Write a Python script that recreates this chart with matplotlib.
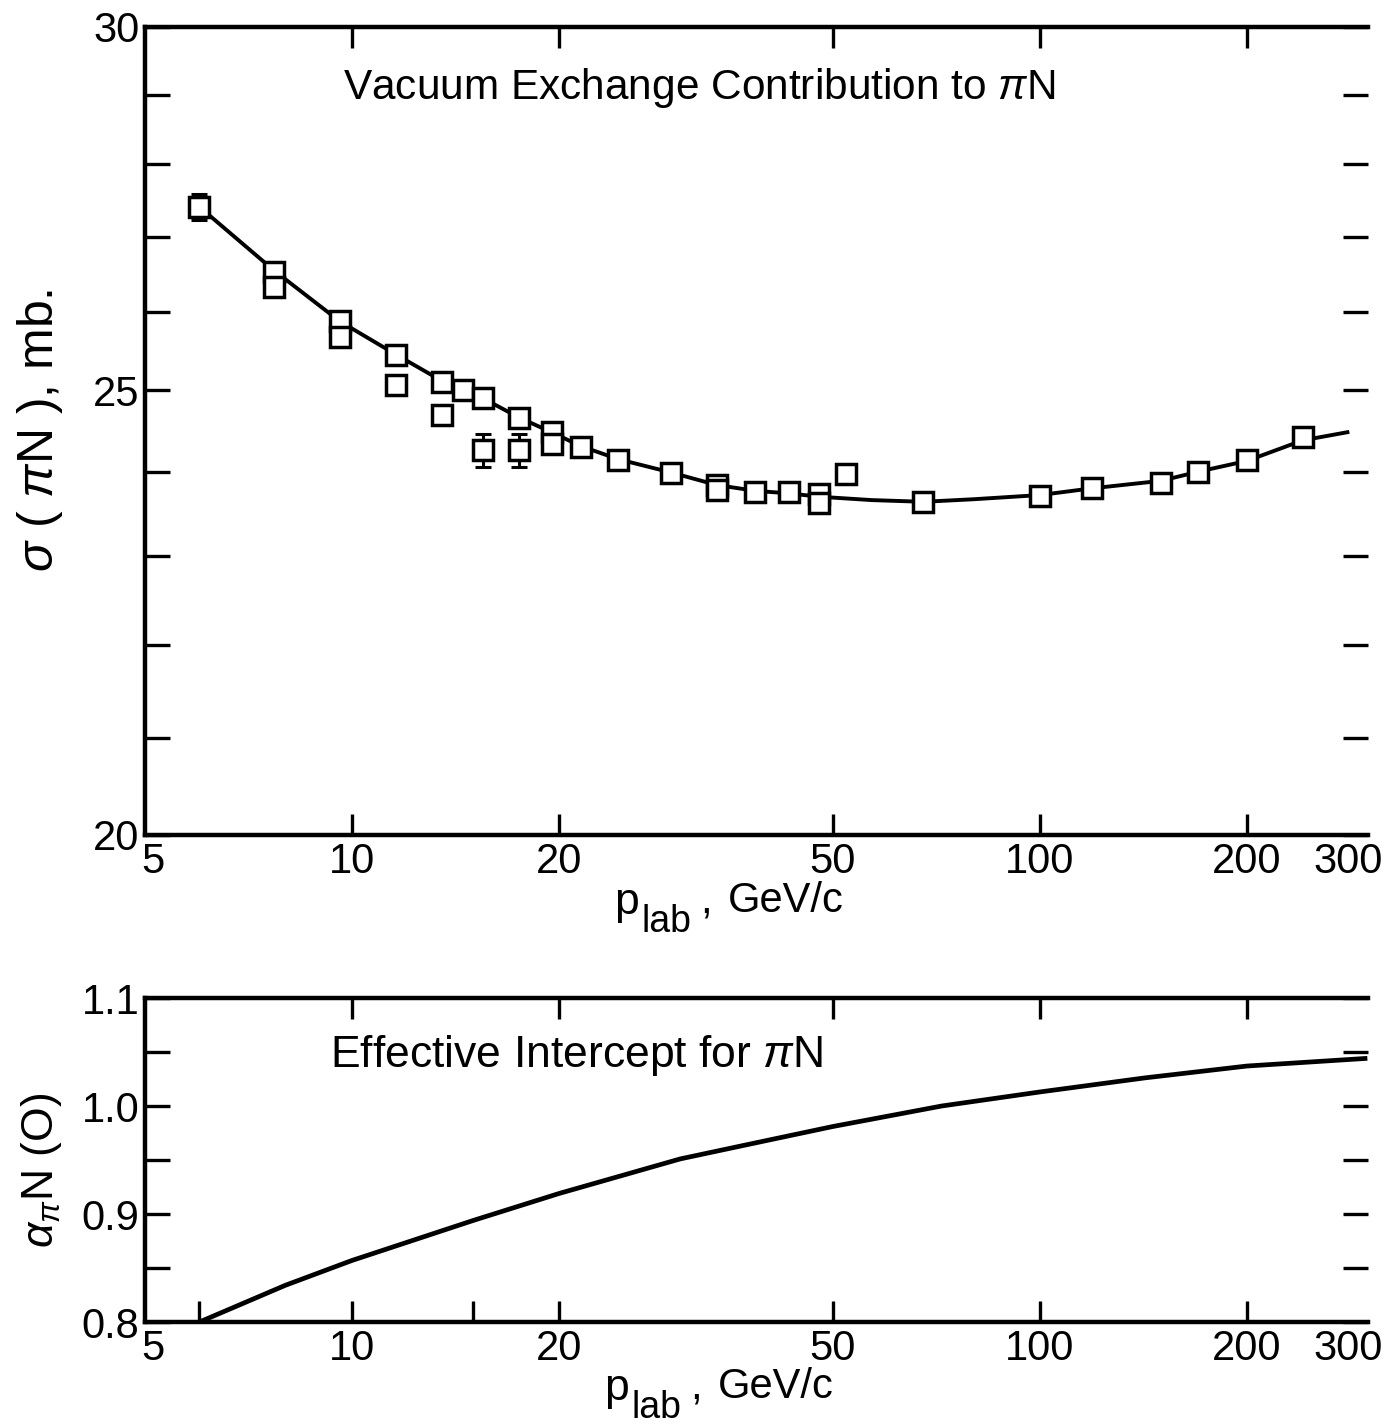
import numpy as np
import matplotlib
matplotlib.use('Agg')
from matplotlib import pyplot as plt
from matplotlib.ticker import FixedLocator, NullLocator, NullFormatter
from matplotlib.transforms import ScaledTranslation

# measured points, sigma(pi N) in mb vs p_lab (GeV/c)
p_data = [6, 7.7, 7.7, 9.6, 9.6, 11.6, 11.6, 13.5, 13.5, 14.5, 15.5, 15.5,
          17.5, 17.5, 19.5, 19.5, 21.5, 24.4, 29.1, 33.9, 33.9, 38.6, 43.2,
          47.8, 47.8, 52.3, 67.7, 100, 119, 150, 170, 200, 241]
sigma_data = [27.41, 26.53, 26.33, 25.88, 25.68, 25.45, 25.07, 25.10, 24.69,
              25.00, 24.90, 24.26, 24.66, 24.26, 24.48, 24.34, 24.30, 24.14,
              23.99, 23.84, 23.78, 23.76, 23.76, 23.73, 23.63, 23.97, 23.64,
              23.71, 23.80, 23.86, 24.00, 24.14, 24.42]
sigma_err = [0.18, 0, 0.12, 0, 0, 0, 0, 0, 0, 0, 0, 0.20, 0, 0.20, 0, 0,
             0, 0, 0, 0, 0, 0, 0, 0, 0, 0, 0, 0, 0, 0, 0, 0, 0]

# fitted vacuum exchange curve
p_fit = [6, 7.7, 9.6, 11.6, 13.5, 15.5, 17.5, 19.5, 21.5, 24.4, 29.1, 33.9,
         38.6, 43.2, 47.8, 57, 67.7, 80, 100, 119, 150, 170, 200, 241, 280]
sigma_fit = [27.41, 26.55, 25.88, 25.45, 25.12, 24.90, 24.66, 24.48, 24.31,
             24.15, 23.99, 23.84, 23.77, 23.74, 23.70, 23.66, 23.64, 23.67,
             23.72, 23.80, 23.89, 24.00, 24.13, 24.38, 24.48]

# effective intercept curve
p_alpha = [6, 8, 10, 15, 20, 30, 38.7, 50, 72, 100, 142, 200, 297]
alpha = [0.800, 0.834, 0.857, 0.894, 0.919, 0.951, 0.966, 0.981, 1.000,
         1.013, 1.026, 1.037, 1.044]

x_major = [5, 10, 20, 50, 100, 200, 300]
x_labels = ['5', '10', '20', '50', '100', '200', '300']

plt.rcParams['font.family'] = ['Liberation Sans', 'DejaVu Sans']
plt.rcParams['mathtext.fontset'] = 'custom'
plt.rcParams['mathtext.rm'] = 'Liberation Sans'
plt.rcParams['mathtext.it'] = 'Liberation Sans:italic'
plt.rcParams['mathtext.bf'] = 'Liberation Sans:bold'

fs = 30
fig = plt.figure(figsize=(13.85, 14.26), dpi=100)
left = 145 / 1385.0
width = (1368 - 145) / 1385.0
ax1 = fig.add_axes([left, 1 - 835 / 1426.0, width, (835 - 27) / 1426.0])
ax2 = fig.add_axes([left, 1 - 1322 / 1426.0, width, (1322 - 998) / 1426.0])


def shift_label(lbl, dx):
    lbl.set_transform(lbl.get_transform()
                      + ScaledTranslation(dx, 0, fig.dpi_scale_trans))


def style_axis(ax):
    ax.set_xscale('log')
    ax.set_xlim(5, 300)
    ax.set_xticks(x_major)
    ax.set_xticklabels(x_labels, fontsize=fs)
    ax.xaxis.set_minor_locator(NullLocator())
    for sp in ['left', 'bottom', 'top']:
        ax.spines[sp].set_linewidth(3.2)
    ax.spines['right'].set_visible(False)
    ax.tick_params(which='both', direction='in', top=True, right=True,
                   width=2.4, labelsize=fs)
    ax.tick_params(axis='x', which='major', length=15, pad=5)
    ax.tick_params(axis='y', which='both', length=18, pad=4)
    ticks = ax.xaxis.get_major_ticks()
    # no tick marks at the axis ends
    for t in (ticks[0], ticks[-1]):
        t.tick1line.set_visible(False)
        t.tick2line.set_visible(False)
    # nudge the end labels: "5" clear of the y labels, "300" inside the page
    shift_label(ticks[0].label1, 0.08)
    shift_label(ticks[-1].label1, -0.2)


def xlabel(x0, y0):
    # p with a large "lab" subscript, then ", GeV/c"
    fig.text(x0 / 1385.0, 1 - y0 / 1426.0, 'p', fontsize=32,
             ha='left', va='baseline')
    fig.text((x0 + 27) / 1385.0, 1 - (y0 + 18) / 1426.0, 'lab', fontsize=27,
             ha='left', va='baseline')
    fig.text((x0 + 86) / 1385.0, 1 - (y0 - 2) / 1426.0, ',', fontsize=30,
             ha='left', va='baseline')
    fig.text((x0 + 114) / 1385.0, 1 - (y0 - 2) / 1426.0, 'GeV/c',
             fontsize=30, ha='left', va='baseline')


# top panel
style_axis(ax1)
ax1.set_yscale('log')
ax1.set_ylim(20, 30)
ax1.set_yticks([20, 25, 30])
ax1.set_yticklabels(['20', '25', '30'])
ax1.yaxis.set_minor_locator(FixedLocator([21, 22, 23, 24, 26, 27, 28, 29]))
ax1.yaxis.set_minor_formatter(NullFormatter())

ax1.plot(p_fit, sigma_fit, color='k', lw=2.8, zorder=2)
p_arr = np.array(p_data)
s_arr = np.array(sigma_data)
e_arr = np.array(sigma_err)
has_err = e_arr > 0
ax1.errorbar(p_arr[has_err], s_arr[has_err], yerr=e_arr[has_err], fmt='none',
             ecolor='k', elinewidth=2.2, capsize=5.5, capthick=2.2, zorder=3)
ax1.plot(p_arr, s_arr, ls='none', marker='s', ms=14, mew=2.5,
         mfc='white', mec='k', zorder=4)
ax1.text(0.162, 0.925, r'Vacuum Exchange Contribution to $\pi$N',
         transform=ax1.transAxes, fontsize=30.5, ha='left', va='center')
fig.text(0.029, 1 - 430 / 1426.0, r'$\sigma$ ( $\pi$N ), mb.', rotation=90,
         fontsize=36, ha='center', va='center')
xlabel(614, 914)

# bottom panel
style_axis(ax2)
ax2.set_ylim(0.8, 1.1)
ax2.set_yticks([0.8, 0.9, 1.0, 1.1])
ax2.set_yticklabels(['0.8', '0.9', '1.0', '1.1'])
ax2.yaxis.set_minor_locator(FixedLocator([0.85, 0.95, 1.05]))
ax2.xaxis.set_minor_locator(FixedLocator([6, 15]))
ax2.xaxis.set_minor_formatter(NullFormatter())
ax2.tick_params(axis='x', which='minor', length=15, width=2.4, top=False)

ax2.plot(p_alpha, alpha, color='k', lw=3.4)
ax2.text(0.151, 0.824, r'Effective Intercept for $\pi$N',
         transform=ax2.transAxes, fontsize=32, ha='left', va='center')
fig.text(0.03, 1 - 1170 / 1426.0, r'$\alpha_{\pi}$N (O)', rotation=90,
         fontsize=32, ha='center', va='center')
xlabel(604, 1400)

fig.savefig('out.png', dpi=100)
